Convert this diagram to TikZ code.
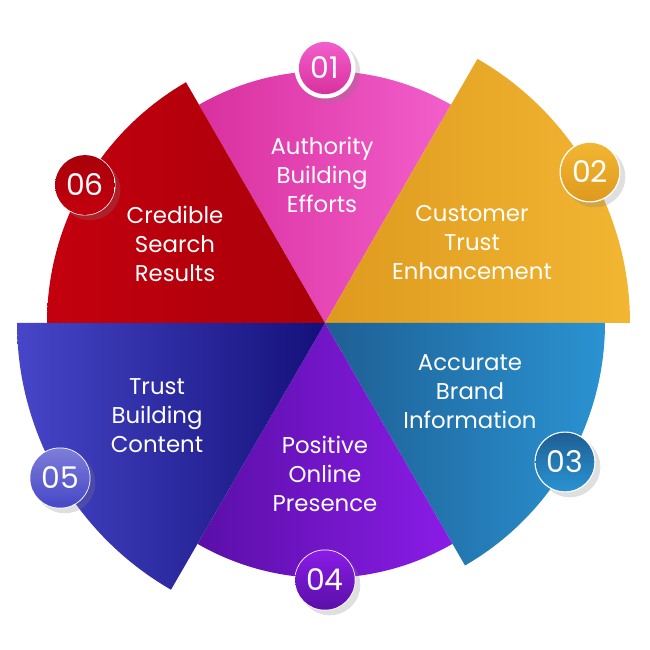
\documentclass[tikz,border=0pt]{standalone}
\usepackage{fontspec}
\setmainfont{Poppins}
\usepackage{tikz}
\usetikzlibrary{positioning,calc,shadows}
\definecolor{pinkA}{HTML}{D9309F}\definecolor{pinkB}{HTML}{F25FCB}
\definecolor{orangeA}{HTML}{DE9A1E}\definecolor{orangeB}{HTML}{F2B632}
\definecolor{tealA}{HTML}{1E5F94}\definecolor{tealB}{HTML}{2A93D2}
\definecolor{purpA}{HTML}{5A0FA8}\definecolor{purpB}{HTML}{8A1CE6}
\definecolor{blueA}{HTML}{4646C8}\definecolor{blueB}{HTML}{14107A}
\definecolor{redA}{HTML}{C4000E}\definecolor{redB}{HTML}{A8000A}
\tikzset{
  label text/.style={text=white, font=\fontsize{13}{16.5}\selectfont, align=center},
  badge ring/.style={circle, fill=white, minimum size=1.22cm, drop shadow={opacity=0.25}},
  badge core/.style={circle, minimum size=0.92cm, text=white, font=\fontsize{17}{17}\selectfont}
}
\begin{document}
\begin{tikzpicture}[x=0.02cm,y=0.02cm]
\useasboundingbox (0,0) rectangle (650,650);
\coordinate (c) at (325,327);

% wedges: start angle / end angle / radius / colours
\foreach \a/\b/\r/\ca/\cb in {60/120/252/pinkA/pinkB, 0/60/305/orangeA/orangeB,
  -60/0/280/tealA/tealB, -120/-60/255/purpA/purpB,
  180/240/308/blueA/blueB, 120/180/278/redA/redB} {
  \shade[left color=\ca, right color=\cb]
    (c) -- ++(\a:\r) arc[start angle=\a, end angle=\b, radius=\r] -- cycle;
}

% texts
\node[label text] (t1) at (322,475) {Authority\\Building\\Efforts};
\node[label text] (t2) at (472,407) {Customer\\Trust\\Enhancement};
\node[label text] (t3) at (470,258) {Accurate\\Brand\\Information};
\node[label text] (t4) at (325,176) {Positive\\Online\\Presence};
\node[label text] (t5) at (157,234) {Trust\\Building\\Content};
\node[label text] (t6) at (175,406) {Credible\\Search\\Results};

% badges
\foreach \n/\x/\y/\ca/\cb in {01/325/582/pinkA/pinkB, 02/590/478/orangeA/orangeB,
  03/565/188/tealB/tealA, 04/325/70/purpA/purpB,
  05/60/172/blueA/blueA!70!white, 06/85/465/redA/redB} {
  \node[badge ring] (r\n) at (\x,\y) {};
  \node[badge core, top color=\cb, bottom color=\ca] (b\n) at (r\n) {\n};
}
\end{tikzpicture}
\end{document}
